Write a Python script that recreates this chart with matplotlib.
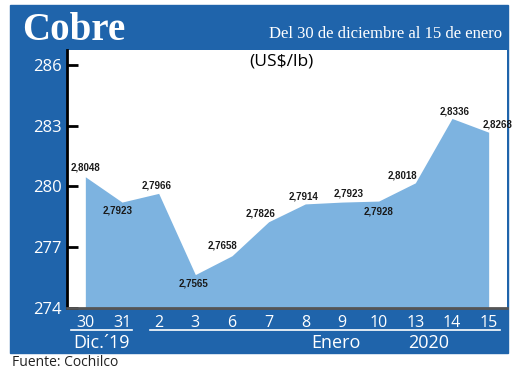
import matplotlib.pyplot as plt
import matplotlib.transforms as mtransforms
from matplotlib.patches import Rectangle

# Data (US cents per lb, labels in US$/lb)
days = ["30", "31", "2", "3", "6", "7", "8", "9", "10", "13", "14", "15"]
prices = [2.8048, 2.7923, 2.7966, 2.7565, 2.7658, 2.7826,
          2.7914, 2.7923, 2.7928, 2.8018, 2.8336, 2.8268]
yticks = [274, 277, 280, 283, 286]
# label offsets in pixels (dx, dy)
label_offsets = [(0, 9), (-4, -8), (-2, 8), (-2, -9), (-10, 10), (-8, 8),
                 (-2, 7), (7, 9), (0, -10), (-13, 7), (3, 7), (9, 8)]

blue = "#1f64ab"
fill = "#7db3e0"
W, H = 520, 376

fig = plt.figure(figsize=(W / 100, H / 100), dpi=100)
fig.patches.append(Rectangle((10 / W, 1 - 353 / H), 498 / W, 348 / H,
                             transform=fig.transFigure, color=blue, zorder=-10))

ax = fig.add_axes([67 / W, 1 - 308 / H, 440 / W, 258 / H])
ax.set_zorder(1)
ax.set_facecolor("white")

x = list(range(len(days)))
cents = [p * 100 for p in prices]
ax.fill_between(x, cents, 274, color=fill, linewidth=0)

for i, (p, c) in enumerate(zip(prices, cents)):
    dx, dy = label_offsets[i]
    ax.annotate(f"{p:.4f}".replace(".", ","), (i, c), xytext=(dx, dy),
                textcoords="offset pixels", ha="center", va="center",
                fontsize=7, fontweight="bold", color="#1a1a1a",
                family="Liberation Sans")

ax.set_xlim(-0.5, 11.5)
ax.set_ylim(274, 286.74)
ax.set_yticks(yticks)
ax.set_xticks(x)
ax.set_xticklabels(days)
ax.tick_params(axis="y", direction="in", length=8, width=2, color="black",
               labelcolor="white", labelsize=12, pad=4)
ax.tick_params(axis="x", length=0, labelcolor="white", labelsize=11.5, pad=5)
for lab in ax.get_xticklabels() + ax.get_yticklabels():
    lab.set_family("Open Sans")

for s in ["top", "right"]:
    ax.spines[s].set_visible(False)
ax.spines["left"].set_color("black")
ax.spines["left"].set_linewidth(2)
ax.spines["bottom"].set_color("#555555")
ax.spines["bottom"].set_linewidth(2)

# month groups under the axis
tr = mtransforms.blended_transform_factory(ax.transData, ax.transAxes)
ax.plot([-0.38, 1.28], [-0.085, -0.085], color="white", lw=1.2,
        transform=tr, clip_on=False)
ax.plot([1.77, 11.3], [-0.085, -0.085], color="white", lw=1.2,
        transform=tr, clip_on=False)
ax.text(0.45, -0.136, "Dic.´19", transform=tr, ha="center", va="center",
        color="white", fontsize=13, family="Open Sans")
ax.text(6.84, -0.136, "Enero", transform=tr, ha="center", va="center",
        color="white", fontsize=13, family="Open Sans")
ax.text(9.35, -0.136, "2020", transform=tr, ha="center", va="center",
        color="white", fontsize=13, family="Open Sans")

# header
fig.text(22 / W, 1 - 40 / H, "Cobre", color="white", fontsize=28,
         fontweight="bold", family="Liberation Serif", va="baseline")
fig.text(502 / W, 1 - 38 / H, "Del 30 de diciembre al 15 de enero",
         color="white", fontsize=12, family="Liberation Serif",
         ha="right", va="baseline")
fig.text(281 / W, 1 - 62 / H, "(US$/lb)", color="black", fontsize=12.5,
         family="Open Sans", ha="center", va="center", zorder=5)
fig.text(12 / W, 1 - 363 / H, "Fuente: Cochilco", color="#222222",
         fontsize=10, family="Open Sans", va="center")

fig.savefig("out.png", dpi=100)
